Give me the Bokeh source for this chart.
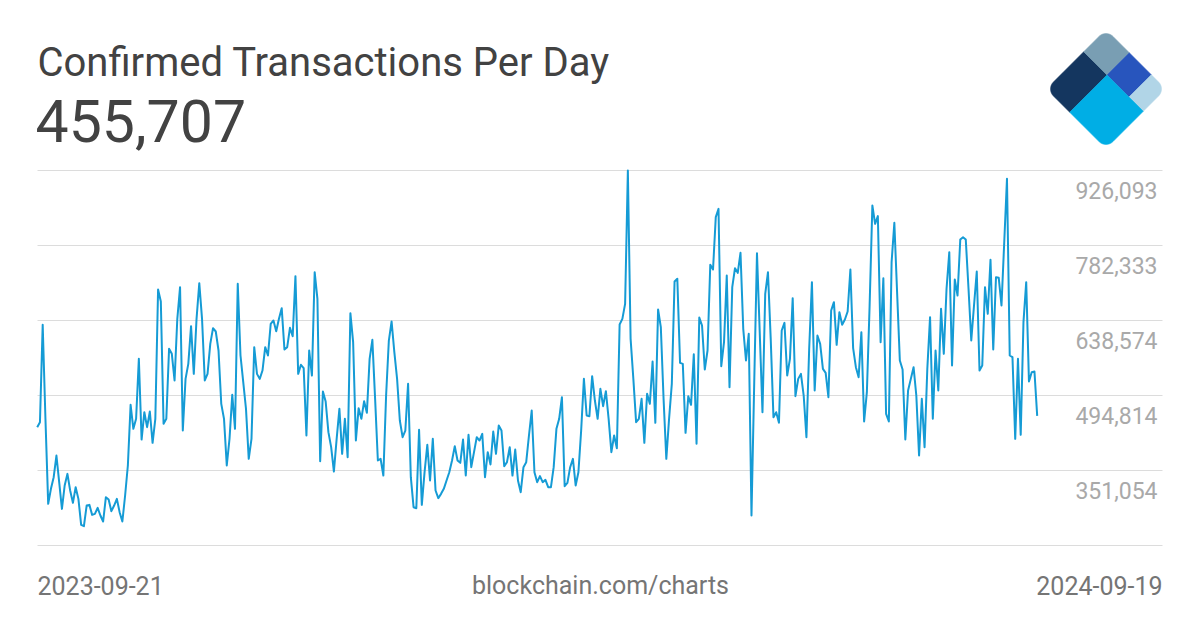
import math
import pandas as pd
from bokeh.plotting import figure
from bokeh.models import Range1d, ColumnDataSource
from bokeh.core.properties import value
from bokeh.embed import file_html
from bokeh.resources import INLINE

# ---------------- data ----------------
start_date = "2023-09-21"
end_date = "2024-09-19"

tx_per_day = [
    434100, 443700, 630300, 450100, 287100, 315900, 338200, 379800, 328600, 277500,
    322300, 344600, 312700, 289000, 319100, 296700, 246900, 244300, 283900, 285200,
    266000, 268000, 279500, 264800, 253300, 299900, 295400, 273100, 283900, 296700,
    271200, 253300, 303100, 360600, 476900, 430900, 450100, 565100, 410400, 462800,
    434100, 464100, 404100, 450100, 698000, 675000, 440500, 450100, 584300, 574700,
    523600, 641800, 702500, 427700, 526700, 555500, 627700, 536300, 641800, 710100,
    641800, 523600, 536300, 593800, 623900, 617500, 581100, 478800, 450100, 360600,
    411700, 496100, 430900, 708900, 571500, 520400, 469200, 373400, 411700, 587500,
    536300, 526700, 542700, 587500, 571500, 632200, 638600, 618100, 641800, 662200,
    583000, 587500, 624500, 608500, 723600, 536300, 553600, 547200, 418100, 581100,
    533100, 731200, 680100, 368900, 502500, 483300, 424500, 395800, 349100, 411700,
    469200, 383000, 450100, 376600, 652600, 597000, 408500, 470500, 450100, 483900,
    461600, 565100, 601500, 488400, 370200, 373400, 341400, 494800, 600200, 636700,
    577900, 526700, 446900, 414900, 427700, 517200, 338200, 280700, 278800, 429000,
    285200, 347800, 400200, 331900, 411700, 312700, 298000, 306300, 315900, 331900,
    347800, 370200, 397700, 370200, 365700, 410400, 341400, 419400, 357400, 386200,
    414900, 408500, 421300, 338200, 386200, 362500, 425800, 383000, 437300, 427700,
    359300, 367000, 395700, 341400, 391300, 331900, 309500, 357400, 367000, 418100,
    466000, 347800, 328700, 340200, 328700, 333100, 319100, 319100, 357400, 430900,
    450100, 491600, 321000, 327400, 357400, 373400, 322300, 347800, 427700, 526700,
    456500, 455200, 531900, 485200, 450100, 507600, 474400, 503100, 450100, 386200,
    418100, 393800, 630900, 641800, 670500, 926093, 603400, 526700, 443700, 450100,
    488400, 404100, 498000, 478800, 560000, 442400, 659700, 625800, 488400, 373400,
    450100, 517200, 713300, 718500, 557400, 555500, 423200, 493500, 476900, 574000,
    402200, 644300, 629000, 544600, 581100, 745300, 736300, 836700, 852600, 551000,
    597000, 724800, 510800, 702500, 738900, 729900, 768300, 622600, 561900, 613000,
    264800, 520400, 767600, 616200, 462800, 689700, 731200, 603400, 453300, 462800,
    442400, 619400, 634100, 533100, 565100, 681400, 493500, 526700, 536300, 494800,
    414900, 584300, 712100, 504400, 609800, 593800, 545900, 538200, 491600, 657700,
    673700, 591900, 654500, 630300, 640500, 655800, 736300, 585500, 549100, 529900,
    616200, 445000, 501200, 667300, 859000, 823900, 838600, 597000, 719700, 459700,
    445000, 750400, 825800, 692900, 561900, 544600, 410400, 504400, 526700, 549100,
    494800, 379800, 488400, 395800, 545900, 645000, 450100, 581100, 504400, 660900,
    574700, 699300, 769600, 552300, 717200, 686500, 793900, 798300, 793900, 699300,
    600200, 667300, 732500, 542700, 552300, 702500, 651400, 754900, 583000, 721600,
    720400, 667300, 788700, 910100, 571500, 568300, 411700, 565100, 419400, 635400,
    712100, 521600, 539500, 540800, 455707,
]

y_ticks = [926093, 782333, 638574, 494814, 351054, 207294]
y_tick_labels = ["926,093", "782,333", "638,574", "494,814", "351,054", ""]

title_text = "Confirmed Transactions Per Day"
headline_text = "455,707"
source_text = "blockchain.com/charts"

# ---------------- layout constants ----------------
W, H = 1200, 630
X_FIRST, X_LAST = 36.7, 1036.7     # pixel x of first / last day
GRID_LEFT, GRID_RIGHT = 37, 1162
Y_TOP_GRID, GRID_GAP = 170, 75      # pixel y of top gridline and spacing

dates = pd.date_range(start_date, end_date, freq="D")
n_days = (dates[-1] - dates[0]).days
px_per_day = (X_LAST - X_FIRST) / n_days
val_per_px = (y_ticks[0] - y_ticks[1]) / GRID_GAP

d0 = dates[0]
def day_at(px):
    return (d0 + pd.Timedelta(days=(px - X_FIRST) / px_per_day)).to_pydatetime()

x_range = Range1d(day_at(0), day_at(W))
y_range = Range1d(y_ticks[0] - (H - Y_TOP_GRID) * val_per_px,
                  y_ticks[0] + Y_TOP_GRID * val_per_px)

p = figure(width=W, height=H, x_range=x_range, y_range=y_range,
           x_axis_type="datetime", x_axis_location=None, y_axis_location=None,
           toolbar_location=None, output_backend="svg", min_border=0,
           outline_line_color=None, background_fill_color="white",
           border_fill_color="white")
p.grid.visible = False
p.extra_x_ranges = {"px": Range1d(0, W)}
p.extra_y_ranges = {"px": Range1d(H, 0)}

# gridlines
grid_src = ColumnDataSource(dict(
    x0=[day_at(GRID_LEFT)] * len(y_ticks),
    x1=[day_at(GRID_RIGHT)] * len(y_ticks),
    y=y_ticks))
p.segment(x0="x0", x1="x1", y0="y", y1="y", source=grid_src,
          line_color="#dcdcdc", line_width=1)

# data line
p.line(x=dates, y=tx_per_day, line_color="#159bd5", line_width=2,
       line_join="round")

FONT = value("Roboto")

# y tick labels (below each gridline, right aligned)
lab_src = ColumnDataSource(dict(
    x=[GRID_RIGHT - 5] * len(y_ticks),
    y=[t - 20 * val_per_px for t in y_ticks],
    text=y_tick_labels))
p.text(x="x", y="y", text="text", source=lab_src, text_font=FONT,
       text_font_size="23px", text_color="#a9a9a9", text_align="right",
       text_baseline="middle", x_range_name="px")

# header texts
p.text(x=[37], y=[62], text=[title_text], text_font=FONT,
       text_font_size="40px", text_color="#424242", text_align="left",
       text_baseline="middle", x_range_name="px", y_range_name="px")
p.text(x=[35], y=[120], text=[headline_text], text_font=FONT,
       text_font_size="59px", text_color="#424242", text_align="left",
       text_baseline="middle", x_range_name="px", y_range_name="px")

# footer texts
foot_src = ColumnDataSource(dict(
    x=[GRID_LEFT, W / 2, GRID_RIGHT],
    y=[585, 585, 585],
    text=[start_date, source_text, end_date],
    align=["left", "center", "right"]))
p.text(x="x", y="y", text="text", text_align="align", source=foot_src,
       text_font=FONT, text_font_size="25px", text_color="#757575",
       text_baseline="middle", x_range_name="px", y_range_name="px")

# logo (rotated square split into five pieces)
LX, LY, S, R = 1045.9, 88.5, 59.6, 7
A_SPLIT, B_SPLIT1, B_SPLIT2 = 37.3, 23.3, 45.3
def to_px(a, b):
    return LX + a + b, LY - a + b

def piece(a0, a1, b0, b1, rounded=None):
    corners = [(a0, b0), (a1, b0), (a1, b1), (a0, b1)]
    base = {(a0, b0): 180, (a1, b0): 270, (a1, b1): 0, (a0, b1): 90}
    xs, ys = [], []
    for c in corners:
        if c == rounded:
            sa = 1 if c[0] == a0 else -1
            sb = 1 if c[1] == b0 else -1
            ca, cb = c[0] + sa * R, c[1] + sb * R
            for k in range(9):
                th = math.radians(base[c] + 90 * k / 8)
                x, y = to_px(ca + R * math.cos(th), cb + R * math.sin(th))
                xs.append(x); ys.append(y)
        else:
            x, y = to_px(*c)
            xs.append(x); ys.append(y)
    return xs, ys

logo = [
    ((0, A_SPLIT, 0, B_SPLIT1, (0, 0)), "#14365f"),
    ((A_SPLIT, S, 0, B_SPLIT1, (S, 0)), "#799eb3"),
    ((A_SPLIT, S, B_SPLIT1, B_SPLIT2, None), "#2855bd"),
    ((A_SPLIT, S, B_SPLIT2, S, (S, S)), "#b1d5e7"),
    ((0, A_SPLIT, B_SPLIT1, S, (0, S)), "#00aee5"),
]
lx, ly, lc = [], [], []
for (a0, a1, b0, b1, rc), col in logo:
    xs, ys = piece(a0, a1, b0, b1, rc)
    lx.append(xs); ly.append(ys); lc.append(col)
p.patches(xs=lx, ys=ly, fill_color=lc, line_color=lc, line_width=0.5,
          x_range_name="px", y_range_name="px")

open("out.html", "w").write(file_html(p, INLINE))
